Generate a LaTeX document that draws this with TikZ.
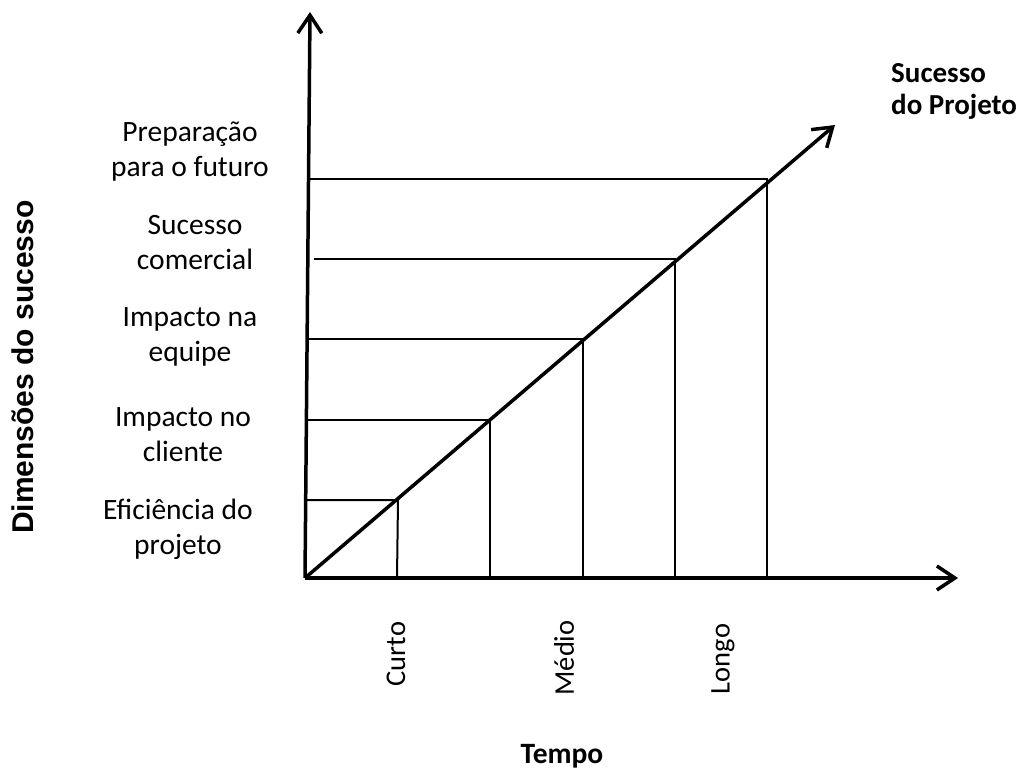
\documentclass[tikz,border=0pt]{standalone}
\usepackage{fontspec}
\setmainfont{Carlito}
\newfontfamily\arialfont{Liberation Sans}
\usetikzlibrary{arrows.meta}
\begin{document}
\begin{tikzpicture}[x=1pt,y=-1pt,
  axis/.style={line width=3.5pt,-{Straight Barb[length=18pt,width=24pt,line width=3.5pt]}},
  guide/.style={line width=2pt},
  lbl/.style={font=\fontsize{29.5}{35}\selectfont,align=center,inner sep=0pt},
  bold/.style={font=\fontsize{29}{32}\selectfont\bfseries,align=left,inner sep=0pt},
  tick/.style={font=\fontsize{28.5}{33}\selectfont,rotate=90,inner sep=0pt}]
\useasboundingbox (0,0) rectangle (1020,771);
\coordinate (O) at (305,578);
\coordinate (Ytip) at (310,12);
\coordinate (Xtip) at (958,578);
\coordinate (Dtip) at (835,125);
% intersection points
\coordinate (p1) at (398,500);
\coordinate (p2) at (490,420);
\coordinate (p3) at (583,339);
\coordinate (p4) at (675,259);
\coordinate (p5) at (767,179);
\coordinate (l1) at (305,500);
\coordinate (l2) at (306,420);
\coordinate (l3) at (306,339);
\coordinate (l4) at (314,259);
\coordinate (l5) at (308,179);
\coordinate (b1) at (397,578);
\coordinate (b2) at (490,578);
\coordinate (b3) at (583,578);
\coordinate (b4) at (675,578);
\coordinate (b5) at (767,578);
\foreach \i in {1,...,5}{
  \draw[guide] (l\i) -- (p\i) -- (b\i);
}
\draw[axis] (O) -- (Ytip);
\draw[axis] (O) -- (Xtip);
\draw[axis] (O) -- (Dtip);
% labels
\node[lbl] (t5) at (190,152) {Preparação\\para o futuro};
\node[lbl] (t4) at (195,243) {Sucesso\\comercial};
\node[lbl] (t3) at (190,337) {Impacto na\\equipe};
\node[lbl] (t2) at (183,435) {Impacto no\\cliente};
\node[lbl] (t1) at (178,529) {Eficiência do\\projeto};
\node[bold,anchor=west] (sp) at (891,91) {Sucesso\\do Projeto};
\node[tick] (c) at (396,654) {Curto};
\node[tick] (m) at (564,658) {Médio};
\node[tick] (lg) at (723,659) {Longo};
\node[font=\fontsize{29.5}{33}\selectfont\bfseries,inner sep=0pt] (tp) at (562,756) {Tempo};
\node[font=\arialfont\fontsize{30}{34}\selectfont\bfseries,rotate=90,inner sep=0pt] (dim) at (23,367) {Dimensões do sucesso};
\end{tikzpicture}
\end{document}
